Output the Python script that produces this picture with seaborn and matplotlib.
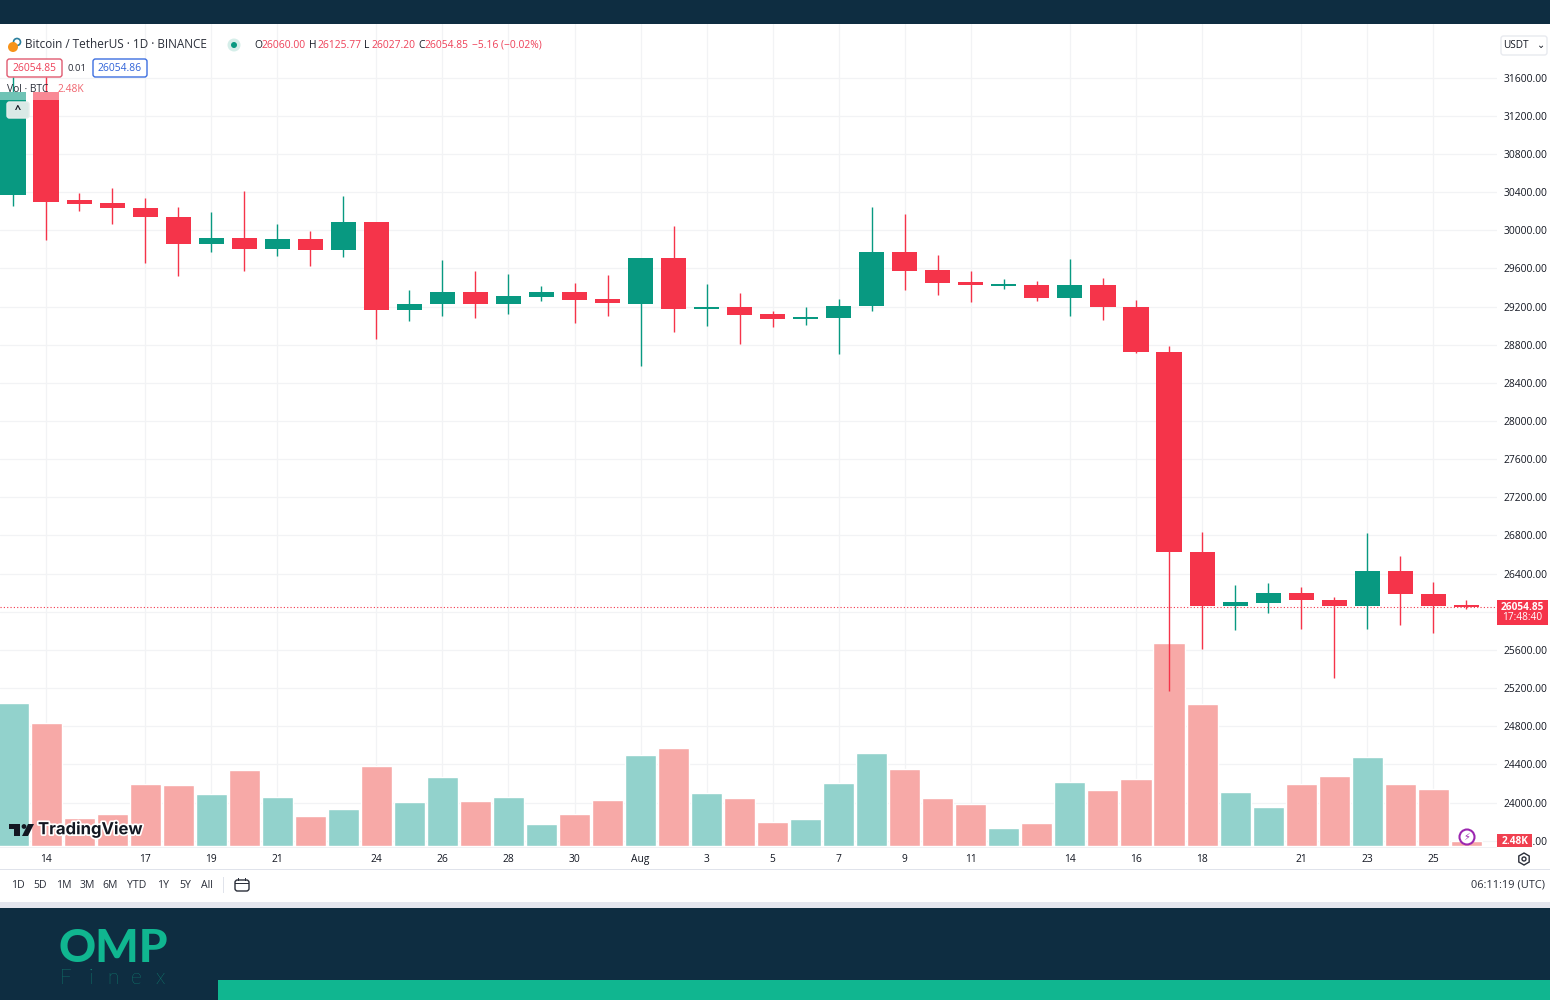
import matplotlib
matplotlib.use('Agg')
import matplotlib.pyplot as plt
import matplotlib.patheffects as pe
from matplotlib.patches import Rectangle, FancyBboxPatch, Circle, Polygon, RegularPolygon
import seaborn as sns
import pandas as pd

# daily candles, Jul 13 -> Aug 26
opens = [30369, 31449, 30317, 30285, 30233, 30138, 29855, 29918, 29803, 29908, 29792, 30086, 29163, 29226, 29352,
         29226, 29300, 29352, 29279, 29226, 29709, 29174, 29195, 29121, 29069, 29079, 29205, 29771, 29583, 29457,
         29415, 29425, 29289, 29425, 29195, 28723, 26626, 26060, 26092, 26196, 26123, 26060, 26427, 26186, 26060.00]
closes = [31449, 30296, 30275, 30233, 30138, 29855, 29918, 29803, 29908, 29792, 30086, 29163, 29226, 29352, 29226,
          29310, 29352, 29268, 29237, 29709, 29174, 29195, 29111, 29069, 29090, 29205, 29771, 29572, 29446, 29425,
          29436, 29289, 29425, 29195, 28723, 26626, 26060, 26102, 26196, 26123, 26060, 26427, 26186, 26060, 26054.85]
highs = [31606, 31606, 30390, 30442, 30338, 30243, 30191, 30411, 30065, 29992, 30359, 30086, 29373, 29688, 29572,
         29541, 29415, 29446, 29530, 29709, 30044, 29436, 29342, 29153, 29195, 29279, 30243, 30170, 29740, 29572,
         29488, 29467, 29698, 29499, 29268, 28786, 26836, 26280, 26301, 26259, 26154, 26825, 26584, 26312, 26125.77]
lows = [30254, 29897, 30201, 30065, 29656, 29520, 29771, 29572, 29730, 29625, 29719, 28859, 29048, 29100, 29079,
        29121, 29258, 29027, 29100, 28576, 28933, 28996, 28807, 28985, 29006, 28702, 29153, 29373, 29321, 29247,
        29384, 29258, 29100, 29058, 28713, 25169, 25609, 25808, 25987, 25819, 25305, 25819, 25861, 25777, 26027.20]
volume_k = [70.9, 61.0, 13.9, 15.9, 30.8, 30.3, 25.8, 37.7, 24.3, 14.9, 18.4, 39.7, 21.8, 34.2, 22.3,
            24.3, 10.9, 15.9, 22.8, 45.1, 48.6, 26.3, 23.8, 11.9, 13.4, 31.2, 46.1, 38.2, 23.8, 20.8,
            8.9, 11.4, 31.7, 27.8, 33.2, 100.7, 70.4, 26.8, 19.3, 30.8, 34.7, 44.1, 30.8, 28.3, 2.48]
date_idx = [1, 4, 6, 8, 11, 13, 15, 17, 19, 21, 23, 25, 27, 29, 32, 34, 36, 39, 41, 43]
date_labels = ['14', '17', '19', '21', '24', '26', '28', '30', 'Aug', '3', '5', '7', '9', '11', '14', '16', '18', '21', '23', '25']
price_ticks = list(range(23600, 31700, 400))
last_price = 26054.85
ranges = ['1D', '5D', '1M', '3M', '6M', 'YTD', '1Y', '5Y', 'All']

UP, DOWN = '#089981', '#F5344A'
VOL_UP, VOL_DOWN = '#92D2CC', '#F7A9A7'
DARK, TEAL = '#0E2D41', '#10B690'
TXT = '#131722'
W, H = 1550, 1000

sns.set_theme(style='white')
plt.rcParams['font.family'] = ['Open Sans', 'DejaVu Sans']

df = pd.DataFrame({'idx': range(len(opens)), 'open': opens, 'close': closes, 'high': highs, 'low': lows, 'vol': volume_k})
df['dir'] = ['up' if c >= o else 'down' for o, c in zip(opens, closes)]
df.loc[df.idx == 0, 'dir'] = 'up'
df['bottom'] = df[['open', 'close']].min(axis=1)
df['size'] = (df.open - df.close).abs().clip(lower=12)

fig = plt.figure(figsize=(W / 100, H / 100), dpi=100, facecolor='white')


def box(l, t, r, b):
    return [l / W, 1 - b / H, (r - l) / W, (b - t) / H]


XLIM = (-0.394, 44.93)
YLIM = (23544, 32162)
rect = box(0, 24, 1497, 846)

# base axes: grid + tick labels
ax = fig.add_axes(rect, zorder=1)
ax.set_xlim(*XLIM)
ax.set_ylim(*YLIM)
ax.set_xticks(date_idx, date_labels)
ax.set_yticks(price_ticks, [f'{p:.2f}' for p in price_ticks])
ax.yaxis.tick_right()
ax.tick_params(axis='both', length=0, labelsize=7.4, colors=TXT)
ax.tick_params(axis='x', pad=6)
ax.tick_params(axis='y', pad=4.5)
ax.grid(True, color='#F2F3F5', linewidth=0.9)
ax.set_axisbelow(True)
sns.despine(ax=ax, left=True, bottom=True, right=True, top=True)

# volume
ax_vol = fig.add_axes(rect, zorder=2)
ax_vol.patch.set_alpha(0)
sns.barplot(data=df, x='idx', y='vol', hue='dir', palette={'up': VOL_UP, 'down': VOL_DOWN}, hue_order=['up', 'down'],
            native_scale=True, dodge=False, width=0.94, legend=False, saturation=1, ax=ax_vol)
ax_vol.set_xlim(*XLIM)
ax_vol.set_ylim(0, 407.7)
ax_vol.axis('off')

# candles
ax_c = fig.add_axes(rect, zorder=3)
ax_c.patch.set_alpha(0)
ax_c.set_xlim(*XLIM)
ax_c.set_ylim(*YLIM)
ax_c.axis('off')
cols = [UP if d == 'up' else DOWN for d in df.dir]
ax_c.vlines(df.idx, df.low, df.high, colors=cols, linewidth=1.0, zorder=2)
ax_c.bar(df.idx, df['size'], bottom=df.bottom, width=0.76, color=cols, linewidth=0, zorder=3)
ax_c.axhline(last_price, color=DOWN, linewidth=0.8, linestyle=(0, (1, 2)), zorder=1)


def rct(l, t, r, b, **kw):
    kw.setdefault('linewidth', 0)
    kw.setdefault('zorder', 5)
    fig.add_artist(Rectangle((l / W, 1 - b / H), (r - l) / W, (b - t) / H, transform=fig.transFigure, **kw))


def txt(x, y, s, **kw):
    kw.setdefault('fontsize', 7.9)
    kw.setdefault('color', TXT)
    kw.setdefault('va', 'center')
    kw.setdefault('zorder', 8)
    return fig.text(x / W, 1 - y / H, s, **kw)


def rbox(l, t, r, b, ec, fc='white', z=6):
    # rounded box in pixels, figure pixel coords
    p = FancyBboxPatch((l, H - b), r - l, b - t, boxstyle='round,pad=0,rounding_size=2.5', transform=None,
                       linewidth=1.0, edgecolor=ec, facecolor=fc, zorder=z)
    fig.add_artist(p)


# page frame
rct(0, 0, W, 24, facecolor=DARK, zorder=9)
rct(0, 869, W, 902, facecolor='white')
rct(0, 869, W, 870, facecolor='#E0E3EB')
rct(0, 846.5, 1497, 847.5, facecolor='#F0F1F4')
rct(0, 902, W, 908, facecolor='#E4E6EE')
rct(0, 908, W, H, facecolor=DARK)
rct(218, 980, W, H, facecolor=TEAL, zorder=6)

# legend rows
rct(0, 92, 60, 100, facecolor='white', alpha=0.42)
fig.add_artist(Circle((13, H - 47), 5, transform=None, facecolor='#F7931A', linewidth=0, zorder=7))
fig.add_artist(Circle((17, H - 42), 3.5, transform=None, facecolor='white', edgecolor='#2A7F9E', linewidth=1.2, zorder=6.5))
txt(25, 45, 'Bitcoin / TetherUS · 1D · BINANCE', fontsize=8.5, color='#2A2E39')
fig.add_artist(Circle((234, H - 45), 6.5, transform=None, facecolor='#D5EEE9', linewidth=0, zorder=6))
fig.add_artist(Circle((234, H - 45), 3, transform=None, facecolor=UP, linewidth=0, zorder=7))
RED_TXT = '#EE4058'
for x, lab, xv, val in [(254, 'O', 262, '26060.00'), (309, 'H', 317, '26125.77'), (364, 'L', 371, '26027.20'), (418, 'C', 425, '26054.85')]:
    txt(x, 45, lab, fontsize=7.4)
    txt(xv, 45, val, fontsize=7.4, color=RED_TXT)
txt(472, 45, '−5.16 (−0.02%)', fontsize=7.4, color=RED_TXT)
rbox(7, 59, 62, 77, '#E05A70')
txt(34.5, 68, '26054.85', fontsize=7.4, color=RED_TXT, ha='center')
txt(77, 68, '0.01', fontsize=6.8, ha='center', color='#2A2E39')
rbox(93, 59, 147, 77, '#3D6FE0')
txt(120, 68, '26054.86', fontsize=7.4, color='#2F62D8', ha='center')
txt(7, 90, 'Vol · BTC', fontsize=7.4, color='#2A2E39')
txt(57, 90, '2.48K', fontsize=7.4, color='#F0646E')
rbox(7, 102, 29, 118, '#E4EDEB', fc='#D9E9E6', z=6)
txt(18, 110, '^', fontsize=8, ha='center', fontweight='bold')

# USDT selector
rbox(1501, 36, 1547, 55, '#E8EAEF')
txt(1503, 45, 'USDT', fontsize=7.2)
txt(1541, 45, '⌄', fontsize=7, ha='center', va='center')

# right side tags
rct(1497, 600, 1548, 625, facecolor=DOWN)
txt(1522, 607, '26054.85', color='white', fontsize=7.3, ha='center', fontweight='bold')
txt(1522, 618, '17:48:40', color='white', fontsize=7.3, ha='center')
rct(1497, 834, 1532, 847, facecolor='#F04050')
txt(1515, 841, '2.48K', color='white', fontsize=7.3, ha='center', fontweight='bold')

# icons near the bottom right
fig.add_artist(Circle((1467, H - 837), 7.5, transform=None, facecolor='white', edgecolor='#9C27B0', linewidth=1.5, zorder=7))
txt(1467, 837, '⚡', fontsize=7, color='#9C27B0', ha='center', family='DejaVu Sans')
fig.add_artist(RegularPolygon((1524, H - 859), 6, radius=6, transform=None, facecolor='white', edgecolor='#2A2E39', linewidth=1, zorder=7))
fig.add_artist(Circle((1524, H - 859), 2, transform=None, facecolor='white', edgecolor='#2A2E39', linewidth=1, zorder=8))

# TradingView watermark
stroke = [pe.withStroke(linewidth=2.5, foreground='white')]
txt(38, 829.5, 'TradingView', fontsize=12, fontweight='bold', color='#131722', family='Inter', path_effects=stroke)
rct(9, 824, 20, 829, facecolor='#131722', zorder=8)
rct(14, 824, 20, 836, facecolor='#131722', zorder=8)
fig.add_artist(Circle((24, H - 826.5), 2.4, transform=None, facecolor='#131722', linewidth=0, zorder=8))
fig.add_artist(Polygon([(28, H - 824), (34, H - 824), (28, H - 836), (22, H - 836)], transform=None, facecolor='#131722', linewidth=0, zorder=8))

# range toolbar
for x, s in zip([18, 40, 63.5, 87, 110, 137, 163, 185, 207], ranges):
    txt(x, 885, s, fontsize=7.6, ha='center', color='#2A2E39')
rct(223, 877, 224, 893, facecolor='#E0E3EB')
rbox(235, 880, 249, 891, '#2A2E39', z=7)
rct(235, 882.5, 249, 883.5, facecolor='#2A2E39', zorder=8)
rct(238, 878, 239, 881, facecolor='#2A2E39', zorder=8)
rct(245, 878, 246, 881, facecolor='#2A2E39', zorder=8)
txt(1545, 885, '06:11:19 (UTC)', fontsize=7.9, ha='right', color='#2A2E39')

# footer brand
txt(113, 949, 'OMP', fontsize=33, fontweight='black', color=TEAL, ha='center', family='Lato')
for x, s in zip([66, 91, 113, 136, 160], 'Finex'):
    txt(x, 978, s, fontsize=15, color=TEAL, ha='center', family='Lato', fontweight='light')

plt.savefig('out.png', dpi=100, facecolor='white')
